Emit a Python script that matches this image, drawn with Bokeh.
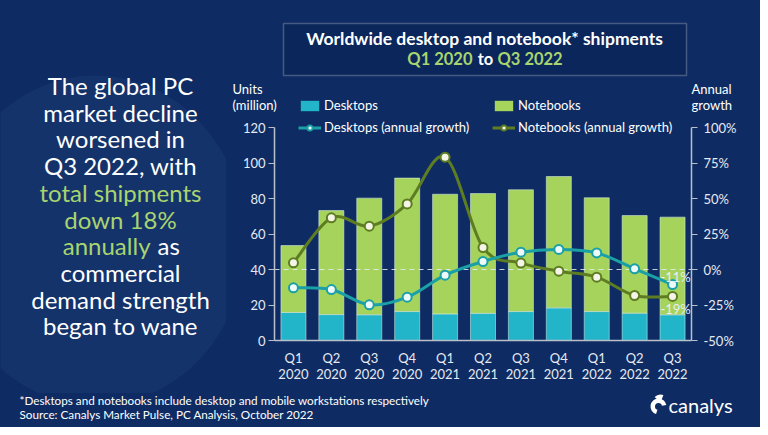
from bokeh.plotting import figure
from bokeh.layouts import row, column
from bokeh.models import (Range1d, LinearAxis, FixedTicker, PrintfTickFormatter, Label,
                          Legend, LegendItem, BoxAnnotation, ColumnDataSource)
from bokeh.embed import file_html
from bokeh.resources import INLINE

# ---------------- data ----------------
quarters = ["Q1\n2020", "Q2\n2020", "Q3\n2020", "Q4\n2020", "Q1\n2021", "Q2\n2021",
            "Q3\n2021", "Q4\n2021", "Q1\n2022", "Q2\n2022", "Q3\n2022"]
desktops = [15.8, 14.6, 14.5, 16.3, 15.0, 15.3, 16.3, 18.4, 16.3, 15.4, 14.5]
notebooks = [37.7, 58.6, 65.7, 75.2, 67.4, 67.5, 68.6, 74.0, 64.1, 55.0, 55.0]
desktop_growth = [-12.9, -14.1, -24.9, -19.5, -4.0, 5.6, 12.2, 14.1, 11.7, 0.5, -10.6]
notebook_growth = [4.7, 36.4, 30.5, 46.2, 79.1, 15.5, 4.5, -1.2, -5.4, -18.3, -19.0]
units_ticks = [0, 20, 40, 60, 80, 100, 120]
growth_ticks = [-50, -25, 0, 25, 50, 75, 100]
paragraph = [("The global PC", "w"), ("market decline", "w"), ("worsened in", "w"),
             ("Q3 2022, with", "w"), ("total shipments", "g"), ("down 18%", "g"),
             (("annually", "as"), "gw"), ("commercial", "w"), ("demand strength", "w"),
             ("began to wane", "w")]

FONT = "Lato"
BG = "#0e2c63"
WHITE = "#ffffff"
GREEN_TXT = "#a8d46f"
C_DESK = "#22b4c8"
C_NOTE = "#a6d35c"
C_DLINE = "#1aa0a6"
C_NLINE = "#5e7d22"
TICK_TXT = "#e6eaf2"
AX = "#b8c0cc"

TOTAL_W, TOTAL_H = 760, 427
LEFT_W = 226          # left text panel width
TOP_H = 114           # title strip height
FOOT_TOP = 393        # page y where the footer strip starts
FOOT_H = TOTAL_H - FOOT_TOP
CH_W = TOTAL_W - LEFT_W
CH_H = FOOT_TOP - TOP_H
PX_PER_UNIT = 213 / 120.0
PX_PER_PCT = 213 / 150.0


def no_align(f):
    if "frame_align" in f.properties():
        f.frame_align = False
    return f


def blank(w, h):
    f = figure(width=w, height=h, output_backend="svg", toolbar_location=None,
               x_range=Range1d(0, w), y_range=Range1d(0, h),
               min_border=0, min_border_left=0, min_border_right=0,
               min_border_top=0, min_border_bottom=0)
    f.axis.visible = False
    f.grid.visible = False
    f.background_fill_color = BG
    f.border_fill_color = BG
    f.outline_line_color = None
    return no_align(f)


def lab(f, text, x, y, size, color=WHITE, align="left", bold=False):
    f.add_layout(Label(x=x, y=y, x_units="screen", y_units="screen", text=text,
                       text_font=FONT, text_font_size=f"{size}px", text_color=color,
                       text_align=align, text_baseline="middle",
                       text_font_style="bold" if bold else "normal"))


# ---------------- left text panel ----------------
LH = FOOT_TOP
L = blank(LEFT_W, LH)
L.ellipse(x=[95], y=[LH - 240], width=[300], height=[330], fill_color="#3d5d96",
          fill_alpha=0.16, line_alpha=0)
for i, (t, c) in enumerate(paragraph):
    Y = 85 + i * 26.7
    if c == "gw":
        lab(L, t[0], 150, LH - Y, 24, GREEN_TXT, align="right")
        lab(L, t[1], 157, LH - Y, 24, WHITE, align="left")
    else:
        lab(L, t, 120, LH - Y, 24, GREEN_TXT if c == "g" else WHITE, align="center")

# ---------------- top strip (title, axis titles, bar legend) ----------------
T = blank(CH_W, TOP_H)
T.add_layout(BoxAnnotation(left=283 - LEFT_W, right=686 - LEFT_W, top=TOP_H - 23, bottom=TOP_H - 75,
                           left_units="screen", right_units="screen", top_units="screen",
                           bottom_units="screen", fill_color="#0a2356", fill_alpha=0.55,
                           line_color="#c9ced8", line_width=1.5))
lab(T, "Worldwide desktop and notebook* shipments", 484 - LEFT_W, TOP_H - 38, 17.5, align="center", bold=True)
lab(T, "Q1 2020", 472 - LEFT_W, TOP_H - 58, 16.5, GREEN_TXT, align="right", bold=True)
lab(T, "to", 485 - LEFT_W, TOP_H - 58, 16.5, align="center", bold=True)
lab(T, "Q3 2022", 497 - LEFT_W, TOP_H - 58, 16.5, GREEN_TXT, align="left", bold=True)
lab(T, "Units", 232 - LEFT_W, TOP_H - 88, 13)
lab(T, "(million)", 232 - LEFT_W, TOP_H - 104, 13)
lab(T, "Annual", 691 - LEFT_W, TOP_H - 88, 13)
lab(T, "growth", 691 - LEFT_W, TOP_H - 104, 13)
# legend proxies for the bar series (zero-height, so they draw nothing in this strip)
pd_ = T.vbar(x=list(range(len(desktops))), top=desktops, bottom=desktops, width=0.66,
             fill_color=C_DESK, line_color=None)
pn_ = T.vbar(x=list(range(len(notebooks))), top=notebooks, bottom=notebooks, width=0.66,
             fill_color=C_NOTE, line_color=None)

LEG = dict(orientation="horizontal", background_fill_alpha=0, border_line_alpha=0, padding=0,
           margin=0, spacing=0, label_text_color=WHITE, label_text_font=FONT,
           label_text_font_size="13px", glyph_width=23, glyph_height=13, label_height=16,
           label_width=168, label_standoff=3)
T.add_layout(Legend(items=[LegendItem(label="Desktops", renderers=[pd_]),
                           LegendItem(label="Notebooks", renderers=[pn_])],
                    location=(298 - LEFT_W, TOP_H - 113), **LEG))

# ---------------- chart ----------------
FRAME_TOP_PAD = 127 - TOP_H   # px between chart top and the 120 tick
p = figure(width=CH_W, height=CH_H, output_backend="svg", toolbar_location=None,
           x_range=Range1d(-0.5, len(quarters) - 0.5),
           y_range=Range1d(0, 120 + FRAME_TOP_PAD / PX_PER_UNIT),
           min_border_left=274 - LEFT_W, min_border_right=TOTAL_W - 691,
           min_border_top=0, min_border_bottom=FOOT_TOP - 340)
no_align(p)
p.extra_y_ranges = {"growth": Range1d(-50, 100 + FRAME_TOP_PAD / PX_PER_PCT)}
p.background_fill_color = BG
p.border_fill_color = BG
p.outline_line_color = None
p.xgrid.visible = False
p.ygrid.visible = False

idx = list(range(len(quarters)))
src = ColumnDataSource(dict(x=idx, desk=desktops, note=notebooks))
bars = p.vbar_stack(["desk", "note"], x="x", width=0.66, source=src,
                    fill_color=[C_DESK, C_NOTE], line_color="#d9efe6", line_alpha=0.55, line_width=1)

p.hspan(y=[0], y_range_name="growth", line_color="#e8ecf4", line_dash="5 4", line_width=1.2,
        line_alpha=0.85)


def bez(xs, ys):
    n = len(ys)
    out = dict(x0=[], y0=[], x1=[], y1=[], cx0=[], cy0=[], cx1=[], cy1=[])
    for i in range(n - 1):
        a = max(i - 1, 0)
        b = min(i + 2, n - 1)
        out["x0"].append(xs[i]); out["y0"].append(ys[i])
        out["x1"].append(xs[i + 1]); out["y1"].append(ys[i + 1])
        out["cx0"].append(xs[i] + (xs[i + 1] - xs[a]) / 6.0)
        out["cy0"].append(ys[i] + (ys[i + 1] - ys[a]) / 6.0)
        out["cx1"].append(xs[i + 1] - (xs[b] - xs[i]) / 6.0)
        out["cy1"].append(ys[i + 1] - (ys[b] - ys[i]) / 6.0)
    return ColumnDataSource(out)


BZ = dict(x0="x0", y0="y0", x1="x1", y1="y1", cx0="cx0", cy0="cy0", cx1="cx1", cy1="cy1")
nl = p.bezier(source=bez(idx, notebook_growth), line_color=C_NLINE, line_width=3,
              y_range_name="growth", **BZ)
ns = p.scatter(idx, notebook_growth, size=9, fill_color="#f4f4e8", line_color=C_NLINE,
               line_width=2, y_range_name="growth")
dl = p.bezier(source=bez(idx, desktop_growth), line_color=C_DLINE, line_width=3,
              y_range_name="growth", **BZ)
ds = p.scatter(idx, desktop_growth, size=9, fill_color="#eefafa", line_color=C_DLINE,
               line_width=2, y_range_name="growth")

ya = p.yaxis[0]
ya.ticker = FixedTicker(ticks=units_ticks)
ya.bounds = (units_ticks[0], units_ticks[-1])
ra = LinearAxis(y_range_name="growth", ticker=FixedTicker(ticks=growth_ticks),
                formatter=PrintfTickFormatter(format="%d%%"),
                bounds=(growth_ticks[0], growth_ticks[-1]))
p.add_layout(ra, "right")
for ax in [ya, ra]:
    ax.axis_line_color = AX
    ax.axis_line_width = 1.5
    ax.major_tick_line_color = AX
    ax.major_tick_out = 6
    ax.major_tick_in = 0
    ax.minor_tick_line_color = None
    ax.major_label_text_color = TICK_TXT
    ax.major_label_text_font = FONT
    ax.major_label_text_font_size = "13px"
    ax.major_label_standoff = 3
ra.major_label_standoff = 6
xa = p.xaxis[0]
xa.ticker = FixedTicker(ticks=idx)
xa.major_label_overrides = {i: q for i, q in enumerate(quarters)}
xa.axis_line_color = AX
xa.axis_line_width = 1.5
xa.major_tick_line_color = None
xa.minor_tick_line_color = None
xa.major_label_text_color = TICK_TXT
xa.major_label_text_font = FONT
xa.major_label_text_font_size = "13px"
xa.major_label_text_line_height = 1.0
xa.major_label_standoff = 3

p.add_layout(Legend(items=[LegendItem(label="Desktops (annual growth)", renderers=[dl, ds]),
                           LegendItem(label="Notebooks (annual growth)", renderers=[nl, ns])],
                    location=(298 - 274, 340 - 135), **LEG))

p.add_layout(Label(x=idx[-1], y=desktop_growth[-1], y_range_name="growth",
                   text=f"{round(desktop_growth[-1])}%", x_offset=3, y_offset=8,
                   text_font=FONT, text_font_size="13px", text_color="#e8eef4",
                   text_align="center", text_baseline="middle"))
p.add_layout(Label(x=idx[-1], y=notebook_growth[-1], y_range_name="growth",
                   text=f"{round(notebook_growth[-1])}%", x_offset=3, y_offset=-13,
                   text_font=FONT, text_font_size="13px", text_color="#e8eef4",
                   text_align="center", text_baseline="middle"))

# ---------------- footer ----------------
F = blank(TOTAL_W, FOOT_H)
lab(F, "*Desktops and notebooks include desktop and mobile workstations respectively", 19, TOTAL_H - 399, 11.7)
lab(F, "Source: Canalys Market Pulse, PC Analysis, October 2022", 19, TOTAL_H - 413, 11.7)
F.annular_wedge(x=[658], y=[TOTAL_H - 406], inner_radius=3.5, outer_radius=8,
                start_angle=0.2, end_angle=4.4, fill_color=WHITE, line_alpha=0)
F.wedge(x=[660], y=[TOTAL_H - 402], radius=8, start_angle=1.2, end_angle=2.4,
        fill_color=WHITE, line_alpha=0)
lab(F, "canalys", 668, TOTAL_H - 404, 20)

layout = column(row(L, column(T, p, spacing=0), spacing=0), F, spacing=0,
                styles={"background-color": BG})
open("out.html", "w").write(file_html(layout, INLINE))
